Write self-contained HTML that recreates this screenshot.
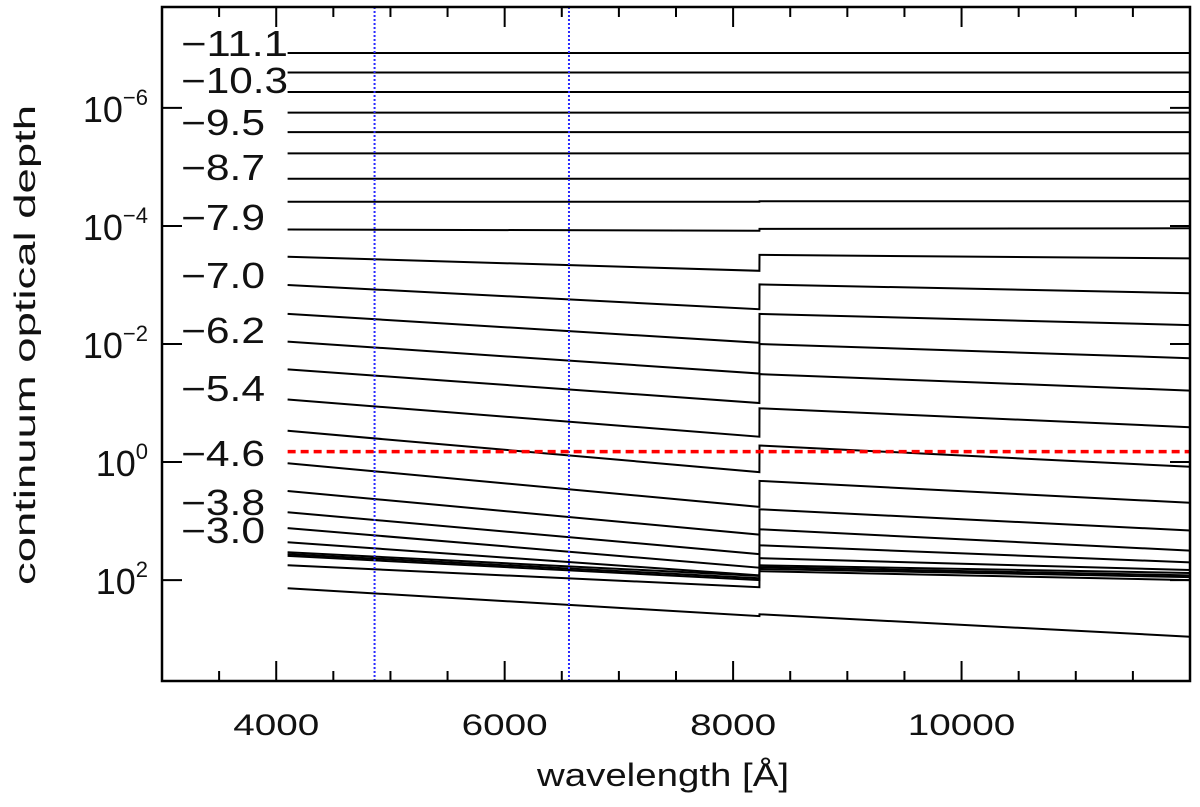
<!DOCTYPE html>
<html><head><meta charset="utf-8"><style>
html,body{margin:0;padding:0;background:#fff;}
svg{display:block;font-family:"Liberation Sans",sans-serif;}
</style></head><body>
<svg id="chart" width="1200" height="807" viewBox="0 0 1200 807" xmlns="http://www.w3.org/2000/svg">
<g id="grid"></g>
<g id="series"></g>
<g id="axes"></g>
<g id="annot"></g>
</svg>
<script>
// wavelength nodes: start, just before edge, just after edge, end
const waveNodes = [4100, 8230, 8231, 12000];
// log10 tau values per curve at each node
const curve01 = [-6.93,-6.93,-6.93,-6.93];
const curve02 = [-6.60,-6.60,-6.60,-6.60];
const curve03 = [-6.27,-6.27,-6.27,-6.27];
const curve04 = [-5.92,-5.92,-5.92,-5.92];
const curve05 = [-5.59,-5.59,-5.59,-5.59];
const curve06 = [-5.23,-5.23,-5.23,-5.23];
const curve07 = [-4.80,-4.80,-4.80,-4.80];
const curve08 = [-4.41,-4.41,-4.42,-4.42];
const curve09 = [-3.94,-3.92,-3.95,-3.96];
const curve10 = [-3.48,-3.24,-3.51,-3.45];
const curve11 = [-3.00,-2.59,-3.01,-2.86];
const curve12 = [-2.51,-2.02,-2.51,-2.32];
const curve13 = [-2.04,-1.50,-2.00,-1.76];
const curve14 = [-1.57,-1.00,-1.49,-1.21];
const curve15 = [-1.06,-0.43,-0.91,-0.59];
const curve16 = [-0.53,0.17,-0.28,0.08];
const curve17 = [0.02,0.76,0.32,0.69];
const curve18 = [0.49,1.23,0.80,1.16];
const curve19 = [0.85,1.56,1.14,1.50];
const curve20 = [1.12,1.79,1.41,1.70];
const curve21 = [1.36,1.92,1.63,1.83];
const curve22 = [1.53,1.93,1.75,1.88];
const curve23 = [1.56,1.97,1.78,1.92];
const curve24 = [1.59,2.00,1.81,1.95];
const curve25 = [1.75,2.12,1.85,2.00];
const curve26 = [2.14,2.61,2.58,2.96];
const curves = [curve01,curve02,curve03,curve04,curve05,curve06,curve07,curve08,curve09,curve10,curve11,curve12,curve13,curve14,curve15,curve16,curve17,curve18,curve19,curve20,curve21,curve22,curve23,curve24,curve25,curve26];
const tauRef = [Math.log10(2/3)];
const markerWaves = [4861, 6563];
const xTicks = [4000, 6000, 8000, 10000];
const yTickExps = [-6, -4, -2, 0, 2];
const heightLabels = ["\u221211.1","\u221210.3","\u22129.5","\u22128.7","\u22127.9","\u22127.0","\u22126.2","\u22125.4","\u22124.6","\u22123.8","\u22123.0"];
const heightLabelY = [43, 80, 122, 167, 217, 275, 330, 388, 453, 502, 530];

const L=162,R=1190,T=7,B=681;
const X0=3000,X1=12000;
const Y0=-7.71,Y1=3.71;
const sx = w => L + (w-X0)/(X1-X0)*(R-L);
const sy = lt => T + (lt-Y0)/(Y1-Y0)*(B-T);
const NS="http://www.w3.org/2000/svg";
function mk(tag, attrs, parent){const e=document.createElementNS(NS,tag);for(const k in attrs)e.setAttribute(k,attrs[k]);parent.appendChild(e);return e;}

const gS=document.getElementById('series');
curves.forEach((c,i)=>{
  const d=c.map((v,j)=>(j?'L':'M')+sx(waveNodes[j]).toFixed(1)+' '+sy(v).toFixed(1)).join(' ');
  const p=mk('path',{d:d,fill:'none',stroke:'#000','stroke-width':2},gS);
  
  
});
markerWaves.forEach((w,i)=>{
  const l=mk('line',{x1:sx(w),x2:sx(w),y1:T,y2:B,stroke:'#2a2aff','stroke-width':2,'stroke-dasharray':'2 2'},gS);
  
  
});
const rl=mk('line',{x1:sx(4100),x2:sx(12000),y1:sy(tauRef[0]),y2:sy(tauRef[0]),stroke:'#ff0000','stroke-width':3.5,'stroke-dasharray':'8 5'},gS);



const gA=document.getElementById('axes');
const fr=mk('rect',{x:L,y:T,width:R-L,height:B-T,fill:'none',stroke:'#000','stroke-width':2.5},gA);


for(let w=3500;w<12000;w+=500){
  const major=(w%2000===0);
  const len=major?20:10;
  mk('line',{x1:sx(w),x2:sx(w),y1:B,y2:B-len,stroke:'#000','stroke-width':2},gA);
  mk('line',{x1:sx(w),x2:sx(w),y1:T,y2:T+len,stroke:'#000','stroke-width':2},gA);
}
xTicks.forEach(w=>{
  const s=String(w);
  const t=mk('text',{x:sx(w),y:735,'text-anchor':'middle','font-size':30,fill:'#111',textLength:21.5*s.length,lengthAdjust:'spacingAndGlyphs'},gA);
  t.textContent=s;
  
  
});
yTickExps.forEach(e=>{
  const y=sy(e);
  mk('line',{x1:L,x2:L+20,y1:y,y2:y,stroke:'#000','stroke-width':2},gA);
  mk('line',{x1:R-20,x2:R,y1:y,y2:y,stroke:'#000','stroke-width':2},gA);
  const t=mk('text',{x:148,y:y+14,'text-anchor':'end','font-size':36,fill:'#111'},gA);
  
  
  const base=document.createElementNS(NS,'tspan');base.textContent='10';t.appendChild(base);
  const sup=document.createElementNS(NS,'tspan');sup.setAttribute('dy','-17');sup.setAttribute('font-size','22');
  sup.textContent=(e<0?'\u2212':'')+Math.abs(e);t.appendChild(sup);
});
const xl=mk('text',{x:663,y:786,'text-anchor':'middle','font-size':32,fill:'#111',textLength:252,lengthAdjust:'spacingAndGlyphs'},gA);
xl.textContent='wavelength [\u00C5]';


const yl=mk('text',{x:0,y:0,'text-anchor':'middle','font-size':30,fill:'#111',textLength:480,lengthAdjust:'spacingAndGlyphs',transform:'translate(35,345) rotate(-90)'},gA);
yl.textContent='continuum optical depth';



const gN=document.getElementById('annot');
heightLabels.forEach((s,i)=>{
  const w = s.length>=5 ? 107 : 84;
  const t=mk('text',{x:181,y:heightLabelY[i]+13,'font-size':36,fill:'#111',textLength:w,lengthAdjust:'spacingAndGlyphs'},gN);
  t.textContent=s;
  
  
});
</script>
</body></html>
